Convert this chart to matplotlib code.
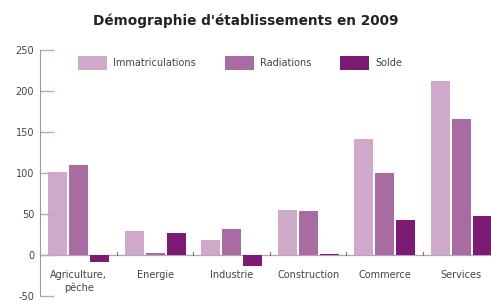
import matplotlib.pyplot as plt
import numpy as np

categories = ["Agriculture,\npêche", "Energie", "Industrie", "Construction", "Commerce", "Services"]
immatriculations = [101, 29, 18, 55, 141, 212]
radiations = [110, 2, 32, 54, 100, 166]
solde = [-9, 27, -14, 1, 42, 47]
yticks = [-50, 0, 50, 100, 150, 200, 250]

c_imm = "#cfa9c9"
c_rad = "#a96ca2"
c_sol = "#7c1b73"

plt.rcParams["axes.unicode_minus"] = False

fig = plt.figure(figsize=(4.91, 3.05), dpi=100)
ax = fig.add_axes([0.081, 0.03, 0.919, 0.806])

x = np.arange(len(categories))
w = 0.25
off = 0.275
ax.bar(x - off, immatriculations, w, color=c_imm, label="Immatriculations")
ax.bar(x, radiations, w, color=c_rad, label="Radiations")
ax.bar(x + off, solde, w, color=c_sol, label="Solde")

ax.set_xlim(-0.51, 5.39)
ax.set_ylim(-50, 250)

# zero line with small separators between groups
ax.axhline(0, color="#b9a3b6", lw=0.9, zorder=0)
for b in x[:-1] + 0.5:
    ax.plot([b, b], [0, 3], color="#777777", lw=0.8)

for xi, lab in zip(x, categories):
    ax.text(xi, -18, lab, ha="center", va="top", fontsize=7, color="#444444", linespacing=1.3)

for s in ["top", "right", "bottom"]:
    ax.spines[s].set_visible(False)
ax.spines["left"].set_color("#999999")
ax.spines["left"].set_bounds(-50, 250)
ax.set_xticks([])
ax.set_yticks(yticks)
ax.tick_params(axis="y", direction="in", length=10, width=1, color="#cf9cc8",
               labelsize=7, labelcolor="#444444", pad=4)

ax.legend(loc="upper left", bbox_to_anchor=(0.065, 1.01), ncol=3, frameon=False,
          fontsize=7, handlelength=3.0, handleheight=1.8, columnspacing=3.0,
          handletextpad=0.6, labelcolor="#444444")

fig.suptitle("Démographie d'établissements en 2009", fontsize=9.8, fontweight="bold",
             y=0.955, color="#222222")

fig.savefig("out.png", dpi=100)
